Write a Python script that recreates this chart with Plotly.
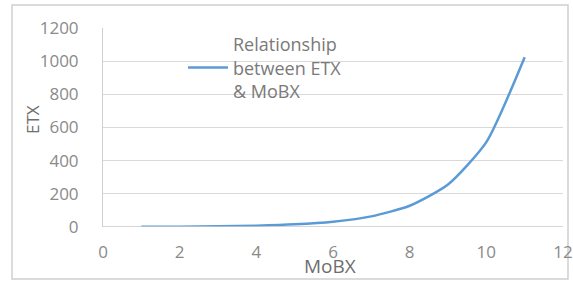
import plotly.graph_objects as go

mobx = [1, 2, 3, 4, 5, 6, 7, 8, 9, 10, 11]
etx = [1, 2, 4, 8, 16, 32, 64, 128, 256, 512, 1024]
series_name = "Relationship<br>between ETX<br>& MoBX"
x_ticks = [0, 2, 4, 6, 8, 10, 12]
y_ticks = [0, 200, 400, 600, 800, 1000, 1200]

W, H = 573, 282
L, R, T, B = 103, 10, 28, 55
pw, ph = W - L - R, H - T - B

def px_x(p):
    return (p - L) / pw

def px_y(p):
    return (H - B - p) / ph

FONT = "Open Sans, Liberation Sans, sans-serif"

fig = go.Figure()
fig.add_trace(go.Scatter(
    x=mobx, y=etx, mode="lines", name=series_name,
    line=dict(color="#5B9BD5", width=2.5, shape="spline", smoothing=0.6),
))

tick_font = dict(family=FONT, size=17, color="#8a8a8a")
fig.update_layout(
    width=W, height=H,
    margin=dict(l=L, r=R, t=T, b=B, autoexpand=False),
    paper_bgcolor="white", plot_bgcolor="white",
    showlegend=True,
    legend=dict(x=px_x(183), y=px_y(26), xanchor="left", yanchor="top",
                bgcolor="rgba(0,0,0,0)", itemwidth=40,
                font=dict(family=FONT, size=18, color="#7a7a7a")),
    xaxis=dict(range=[0, 12], tickvals=x_ticks, showgrid=False, zeroline=False,
               showline=False, tickfont=tick_font, ticklabelstandoff=13, fixedrange=True),
    yaxis=dict(range=[0, 1200], tickvals=y_ticks, showgrid=True, gridcolor="#d9d9d9",
               gridwidth=1, zeroline=False, showline=True, linecolor="#d0d0d0",
               tickfont=tick_font, ticklabelstandoff=20, fixedrange=True),
    shapes=[
        dict(type="rect", xref="paper", yref="paper",
             x0=px_x(12), x1=px_x(568), y0=px_y(279), y1=px_y(5),
             line=dict(color="#d0d0d0", width=1.5), layer="below"),
        dict(type="line", xref="paper", yref="y", x0=0, x1=1, y0=0, y1=0,
             line=dict(color="#c8c8c8", width=1.5)),
    ],
    annotations=[
        dict(text="ETX", xref="paper", yref="paper", x=px_x(32), y=px_y(120),
             xanchor="center", yanchor="middle",
             showarrow=False, textangle=-90,
             font=dict(family=FONT, size=17, color="#6e6e6e")),
        dict(text="MoBX", xref="paper", yref="paper", x=px_x(330), y=px_y(266),
             xanchor="center", yanchor="middle",
             showarrow=False,
             font=dict(family=FONT, size=19, color="#6e6e6e")),
    ],
)

fig.write_html("out.html", config={"displayModeBar": False},
               post_script="document.body.style.margin='0';document.body.style.overflow='hidden';")
